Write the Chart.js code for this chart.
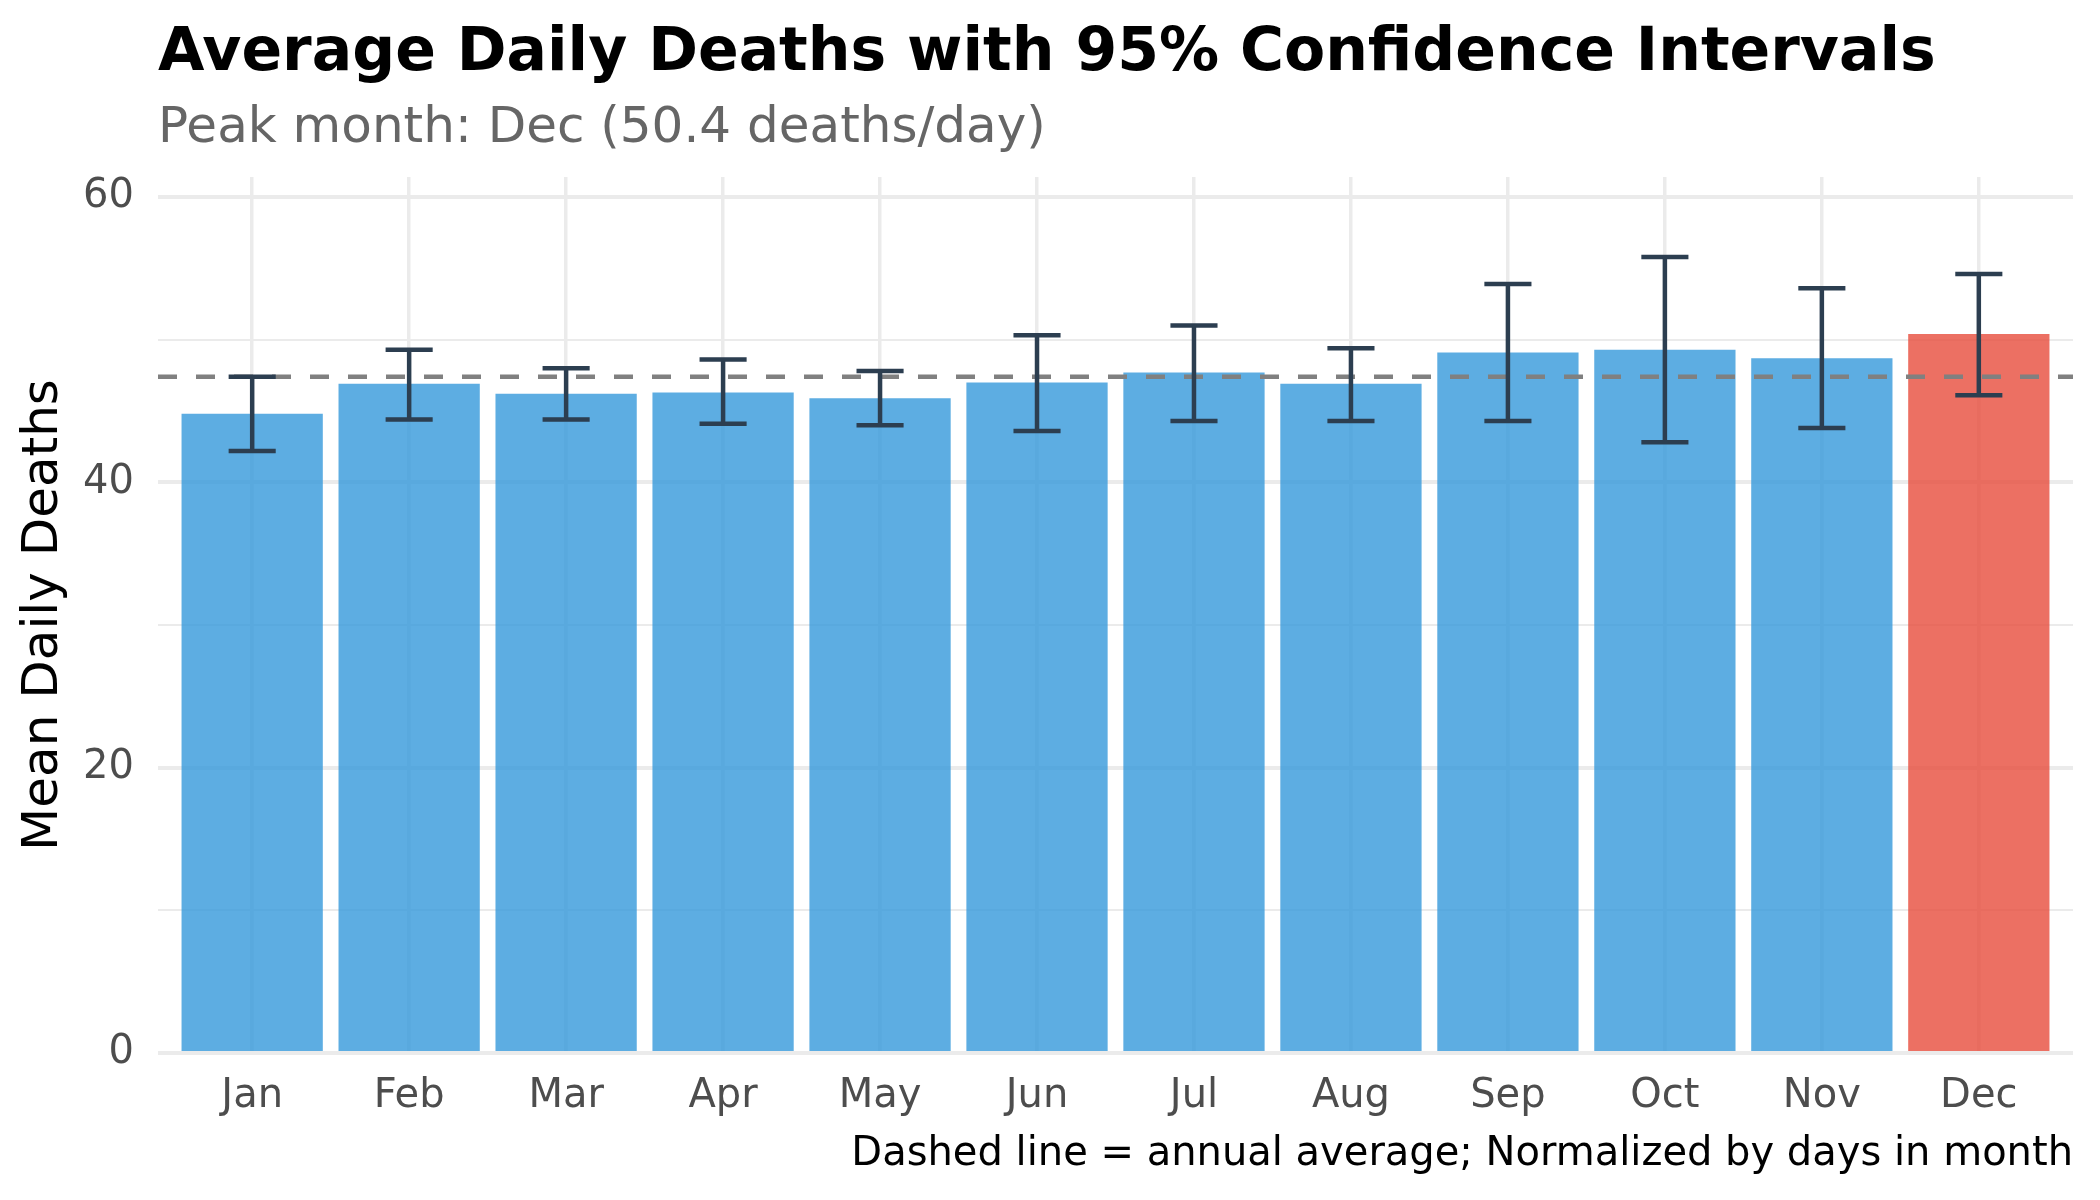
<!DOCTYPE html>
<html>
<head>
<meta charset="utf-8">
<script src="https://cdn.jsdelivr.net/npm/chart.js@4.4.1/dist/chart.umd.min.js"></script>
<style>
  html, body { margin: 0; padding: 0; background: #fff; }
  #wrap { width: 2100px; height: 1200px; }
</style>
</head>
<body>
<div id="wrap"><canvas id="chart"></canvas></div>
<script>
// Valores
var months = ['Jan', 'Feb', 'Mar', 'Apr', 'May', 'Jun', 'Jul', 'Aug', 'Sep', 'Oct', 'Nov', 'Dec'];
var meanDeaths = [44.8, 46.9, 46.2, 46.3, 45.9, 47.0, 47.7, 46.9, 49.1, 49.3, 48.7, 50.4];
var ciLow = [42.2, 44.4, 44.4, 44.1, 44.0, 43.6, 44.3, 44.3, 44.3, 42.8, 43.8, 46.1];
var ciHigh = [47.4, 49.3, 48.0, 48.6, 47.8, 50.3, 51.0, 49.4, 53.9, 55.8, 53.6, 54.6];
var annualAvg = 47.4;
var yTicks = [0, 10, 20, 30, 40, 50, 60];

var FONT = '"DejaVu Sans", sans-serif';
var peak = meanDeaths.indexOf(Math.max.apply(null, meanDeaths));

var barColors = meanDeaths.map(function(v, i) {
  return i === peak ? 'rgba(231, 76, 60, 0.8)' : 'rgba(52, 152, 219, 0.8)';
});

// Barras de erro (IC 95%)
var errorBars = {
  id: 'errorBars',
  afterDatasetsDraw: function(chart) {
    var ctx = chart.ctx, x = chart.scales.x, y = chart.scales.y;
    var half = (x.getPixelForValue(1) - x.getPixelForValue(0)) * 0.15;
    ctx.save();
    ctx.strokeStyle = '#2c3e50';
    ctx.lineWidth = 4.5;
    for (var i = 0; i < months.length; i++) {
      var px = x.getPixelForValue(i);
      var top = y.getPixelForValue(ciHigh[i]);
      var bot = y.getPixelForValue(ciLow[i]);
      ctx.beginPath();
      ctx.moveTo(px, top); ctx.lineTo(px, bot);
      ctx.moveTo(px - half, top); ctx.lineTo(px + half, top);
      ctx.moveTo(px - half, bot); ctx.lineTo(px + half, bot);
      ctx.stroke();
    }
    ctx.restore();
  }
};

// Título, subtítulo e legenda de rodapé
var texts = {
  id: 'texts',
  afterDraw: function(chart) {
    var ctx = chart.ctx, area = chart.chartArea;
    ctx.save();
    ctx.textBaseline = 'alphabetic';
    ctx.textAlign = 'left';
    ctx.fillStyle = '#000';
    ctx.font = 'bold 60px ' + FONT;
    ctx.fillText('Average Daily Deaths with 95% Confidence Intervals', area.left, 70);
    ctx.fillStyle = '#666666';
    ctx.font = '50px ' + FONT;
    ctx.fillText('Peak month: ' + months[peak] + ' (' + meanDeaths[peak].toFixed(1) + ' deaths/day)', area.left, 142);
    ctx.textAlign = 'right';
    ctx.fillStyle = '#000';
    ctx.font = '40px ' + FONT;
    ctx.fillText('Dashed line = annual average; Normalized by days in month', area.right, 1165);
    ctx.restore();
  }
};

new Chart(document.getElementById('chart'), {
  type: 'bar',
  data: {
    datasets: [{
      type: 'line',
      data: [{ x: -0.6, y: annualAvg }, { x: months.length - 0.4, y: annualAvg }],
      borderColor: '#808080',
      borderWidth: 4.5,
      borderDash: [19, 19],
      pointRadius: 0,
      fill: false,
      order: 0
    }, {
      type: 'bar',
      data: meanDeaths.map(function(v, i) { return { x: i, y: v }; }),
      backgroundColor: barColors,
      borderWidth: 0,
      barPercentage: 0.9,
      categoryPercentage: 1.0,
      order: 1
    }]
  },
  options: {
    responsive: true,
    maintainAspectRatio: false,
    devicePixelRatio: 1,
    animation: false,
    layout: { padding: { top: 177, right: 27, bottom: 59, left: 0 } },
    plugins: { legend: { display: false }, tooltip: { enabled: false } },
    scales: {
      x: {
        type: 'linear',
        min: -0.6,
        max: months.length - 0.4,
        offset: false,
        afterBuildTicks: function(axis) {
          axis.ticks = months.map(function(m, i) { return { value: i }; });
        },
        border: { display: false },
        grid: { offset: false, color: '#ebebeb', lineWidth: 3.5, drawTicks: false },
        ticks: {
          padding: 20,
          color: '#4d4d4d',
          maxRotation: 0,
          autoSkip: false,
          font: { family: FONT, size: 40 },
          callback: function(v) { return months[v]; }
        }
      },
      y: {
        min: 0,
        max: 61.4,
        afterBuildTicks: function(axis) {
          axis.ticks = yTicks.map(function(v) { return { value: v }; });
        },
        afterFit: function(axis) { axis.width = 158; },
        border: { display: false },
        grid: {
          color: '#ebebeb',
          drawTicks: false,
          lineWidth: function(c) { return (c.tick && c.tick.value % 20 === 0) ? 4 : 2; }
        },
        ticks: {
          padding: 24,
          color: '#4d4d4d',
          font: { family: FONT, size: 40 },
          callback: function(v) { return v % 20 === 0 ? v : ''; }
        },
        title: {
          display: true,
          text: 'Mean Daily Deaths',
          color: '#000',
          font: { family: FONT, size: 50 },
          padding: { top: 14, bottom: 0 }
        }
      }
    }
  },
  plugins: [errorBars, texts]
});
</script>
</body>
</html>
